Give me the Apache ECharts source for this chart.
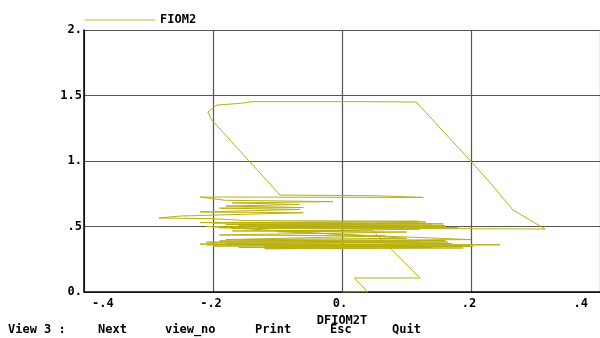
<!DOCTYPE html>
<html>
<head>
<meta charset="utf-8">
<script src="https://cdn.jsdelivr.net/npm/echarts@6/dist/echarts.min.js"></script>
<style>
  html, body { margin: 0; padding: 0; background: #fff; }
  #chart { width: 600px; height: 338px; }
</style>
</head>
<body>
<div id="chart"></div>
<script>
// phase plot: FIOM2 against its derivative DFIOM2T
const dfiom2t = [
  0, 0.04, 0.019, 0.121, 0.047,
  -0.17, 0.10, -0.19, 0.067, -0.18, 0.16, -0.21, 0.164, -0.22, 0.245, -0.20, 0.203, -0.16, 0.188, -0.12, 0.14, -0.18, 0.12, -0.15, 0.10,
  -0.21, 0.16, -0.18, 0.157, -0.22, 0.13, -0.19,
  0.315, 0.265, 0.226, 0.198, 0.115, 0.036, -0.138, -0.158, -0.194, -0.208, -0.202, -0.096,
  0.05, 0.126, -0.22, -0.181, -0.014, -0.17, -0.065, -0.18, -0.06, -0.19, -0.065, -0.22, -0.06, -0.25, -0.284, -0.20, -0.15,
  0.12, -0.20, 0.14, -0.16, 0.16, -0.13, 0.18, -0.17, 0.12, -0.10,
  0.20, -0.19, 0.17, -0.21, 0.203, -0.12, 0.10
]
const fiom2 = [
  0, 0, 0.107, 0.107, 0.473,
  0.466, 0.458, 0.435, 0.428, 0.40, 0.392, 0.38, 0.382, 0.366, 0.36, 0.351, 0.351, 0.34, 0.336, 0.33, 0.34, 0.37, 0.38, 0.40, 0.41,
  0.50, 0.505, 0.515, 0.52, 0.53, 0.535, 0.49,
  0.481, 0.626, 0.855, 1.008, 1.450, 1.453, 1.453, 1.44, 1.427, 1.374, 1.313, 0.74,
  0.735, 0.722, 0.725, 0.70, 0.69, 0.68, 0.668, 0.656, 0.645, 0.64, 0.63, 0.611, 0.605, 0.58, 0.565, 0.56, 0.545,
  0.54, 0.527, 0.52, 0.51, 0.5, 0.495, 0.49, 0.485, 0.48, 0.46,
  0.40, 0.39, 0.37, 0.36, 0.35, 0.345, 0.35
]
const xTickLabels = { '-0.4': '-.4', '-0.2': '-.2', '0': '0.', '0.2': '.2', '0.4': '.4' }
const yTickLabels = { '0': '0.', '0.5': '.5', '1': '1.', '1.5': '1.5', '2': '2.' }
const menuItems = [
  ['View 3 :', 8], ['Next', 98], ['view_no', 165], ['Print', 255], ['Esc', 330], ['Quit', 392]
]

const font = "'DejaVu Sans Mono', monospace"
const lineColor = "#b8b012"
const gridColor = "#555"

const chart = echarts.init(document.getElementById("chart"))

const fmt = (map) => (v) => {
  const key = String(Math.round(v * 10) / 10)
  return map[key] !== undefined ? map[key] : key
}

chart.setOption({
  animation: false,
  backgroundColor: "#fff",
  grid: { left: 84, right: -2, top: 30, bottom: 46 },
  legend: {
    left: 80, top: 9,
    itemWidth: 70, itemHeight: 12, itemGap: 5,
    icon: "path://M0,5 L70,5 L70,6.5 L0,6.5 Z",
    textStyle: { fontFamily: font, fontWeight: "bold", fontSize: 12, color: "#000" },
    data: [{ name: "FIOM2", itemStyle: { color: "#d2d27a" } }]
  },
  xAxis: {
    type: "value", min: -0.4, max: 0.4, interval: 0.2,
    name: "DFIOM2T", nameLocation: "middle", nameGap: 18,
    nameTextStyle: { fontFamily: font, fontWeight: "bold", fontSize: 12, color: "#000" },
    axisLine: { onZero: false, lineStyle: { color: "#000", width: 1.5 } },
    axisTick: { show: false },
    axisLabel: {
      formatter: fmt(xTickLabels), fontFamily: font, fontWeight: "bold", fontSize: 12, color: "#000",
      margin: 6, alignMinLabel: "left", alignMaxLabel: "right", padding: [0, 12, 0, 8]
    },
    splitLine: { show: true, lineStyle: { color: gridColor, width: 1.2 } }
  },
  yAxis: {
    type: "value", min: 0, max: 2, interval: 0.5,
    axisLine: { onZero: false, lineStyle: { color: "#000", width: 1.5 } },
    axisTick: { show: false },
    axisLabel: {
      formatter: fmt(yTickLabels), fontFamily: font, fontWeight: "bold", fontSize: 12, color: "#000", margin: 2
    },
    splitLine: { show: true, lineStyle: { color: gridColor, width: 1.2 } }
  },
  graphic: menuItems.map(([t, x]) => ({
    type: "text", left: x, top: 324,
    style: { text: t, font: "bold 12px " + font, fill: "#000" }
  })),
  series: [{
    name: "FIOM2",
    type: "line",
    showSymbol: false,
    symbol: "none",
    lineStyle: { color: lineColor, width: 1 },
    itemStyle: { color: "#d2d27a" },
    data: dfiom2t.map((x, i) => [x, fiom2[i]])
  }]
})
</script>
</body>
</html>
